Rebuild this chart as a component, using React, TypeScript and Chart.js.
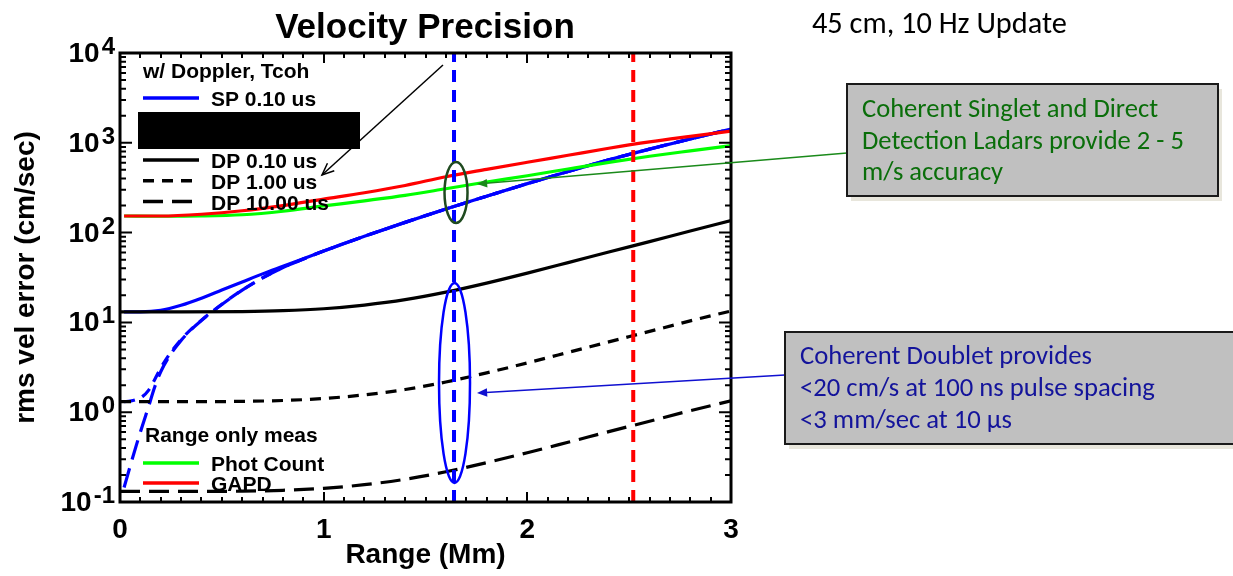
import React, { useEffect, useRef } from 'react';
import { Chart, registerables } from 'chart.js';

Chart.register(...registerables);

const W = 1233;
const H = 576;

// ---------- data ----------
const X_MIN = 0;
const X_MAX = 3;
const Y_MIN = 0.1;
const Y_MAX = 10000;

const X_TICK_LABELS = ['0', '1', '2', '3'];
const Y_DECADES = [-1, 0, 1, 2, 3, 4];

// Coherent singlet (SP) with Doppler
const SP010_X = [0.02, 0.1, 0.2, 0.3, 0.4, 0.5, 0.6, 0.7, 0.8, 0.9, 1.0, 1.2, 1.4, 1.6, 1.8, 2.0, 2.2, 2.4, 2.6, 2.8, 3.0];
const SP010_Y = [13.1, 13.1, 13.6, 15.5, 18.6, 22.9, 28.2, 34.7, 42.2, 51.3, 62.4, 91, 130, 183, 254, 351, 479, 646, 851, 1104, 1419];

const SP100_X = [0.02, 0.05, 0.08, 0.11, 0.14, 0.17, 0.2, 0.25, 0.3, 0.35, 0.4, 0.5, 0.6, 0.7, 0.8, 0.9, 1.0, 1.2, 1.4, 1.6, 1.8, 2.0, 2.2, 2.4, 2.6, 2.8, 3.0];
const SP100_Y = [1.31, 1.33, 1.38, 1.49, 1.75, 2.3, 3.1, 4.65, 6.45, 8.4, 10.6, 15.9, 22.9, 31.3, 40.7, 50.7, 62.4, 91, 130, 183, 254, 351, 479, 646, 851, 1104, 1419];

const SP1000_X = [0.02, 0.05, 0.08, 0.11, 0.14, 0.17, 0.2, 0.25, 0.3, 0.35, 0.4, 0.5, 0.6, 0.7, 0.8, 0.9, 1.0, 1.2, 1.4, 1.6, 1.8, 2.0, 2.2, 2.4, 2.6, 2.8, 3.0];
const SP1000_Y = [0.145, 0.251, 0.427, 0.708, 1.15, 1.9, 2.82, 4.47, 6.31, 8.32, 10.5, 15.8, 22.9, 31.3, 40.7, 50.7, 62.4, 91, 130, 183, 254, 351, 479, 646, 851, 1104, 1419];

// Coherent doublet (DP)
const DP_X = [0, 0.3, 0.6, 0.8, 1.0, 1.2, 1.4, 1.6, 1.8, 2.0, 2.2, 2.4, 2.6, 2.8, 3.0];
const DP010_Y = [13.1, 13.1, 13.2, 13.5, 14.2, 15.6, 17.9, 21.7, 27.4, 35.4, 46.3, 60.7, 79.4, 104, 136];
const DP100_Y = [1.31, 1.31, 1.32, 1.35, 1.42, 1.56, 1.79, 2.17, 2.74, 3.54, 4.63, 6.07, 7.94, 10.4, 13.4];
const DP1000_Y = [0.131, 0.131, 0.132, 0.135, 0.142, 0.156, 0.179, 0.217, 0.274, 0.354, 0.463, 0.607, 0.794, 1.04, 1.34];

// Range-only measurements
const RO_X = [0.02, 0.2, 0.4, 0.6, 0.8, 1.0, 1.2, 1.4, 1.6, 1.8, 2.0, 2.2, 2.4, 2.6, 2.8, 3.0];
const PHOT_Y = [153, 152, 153, 158, 173, 198, 226, 260, 308, 366, 430, 511, 605, 708, 813, 929];
const GAPD_Y = [153, 153, 160, 175, 200, 236, 278, 335, 419, 506, 607, 726, 869, 1023, 1178, 1350];

// Marker ranges (vertical dashed lines)
const BLUE_MARK_X = 1.64;
const RED_MARK_X = 2.52;

// ---------- text ----------
const TITLE = 'Velocity Precision';
const SUBTITLE = '45 cm, 10 Hz Update';
const X_TITLE = 'Range (Mm)';
const Y_TITLE = 'rms vel error (cm/sec)';
const LEGEND1_TITLE = 'w/ Doppler, Tcoh';
const LEGEND2_TITLE = 'Range only meas';
const GREEN_BOX_LINES = ['Coherent Singlet and Direct', 'Detection Ladars provide 2 - 5', 'm/s accuracy'];
const BLUE_BOX_LINES = ['Coherent Doublet provides', '<20 cm/s at 100 ns pulse spacing', '<3 mm/sec at 10 \u03bcs'];

const BLUE = '#0000ff';
const RED = '#ff0000';
const GREEN = '#00ff00';
const BLACK = '#000000';
const SHORT_DASH = [11, 8];
const LONG_DASH = [20, 9];
const MARK_DASH = [12, 8];

const LEGEND1 = [
  { label: 'SP 0.10 us', color: BLUE, dash: [] as number[] },
  { label: 'SP 1.00 us', color: BLUE, dash: SHORT_DASH },
  { label: 'SP 10.00 us', color: BLUE, dash: LONG_DASH },
  { label: 'DP 0.10 us', color: BLACK, dash: [] as number[] },
  { label: 'DP 1.00 us', color: BLACK, dash: SHORT_DASH },
  { label: 'DP 10.00 us', color: BLACK, dash: LONG_DASH },
];
const LEGEND2 = [
  { label: 'Phot Count', color: GREEN },
  { label: 'GAPD', color: RED },
];

const SANS_BOLD = "'Liberation Sans', Arial, Helvetica, sans-serif";
const BOX_FAMILY = "Carlito, Calibri, Lato, 'Open Sans', sans-serif";

function series(label: string, xs: number[], ys: number[], color: string, dash: number[], width = 3.2) {
  return {
    label,
    data: xs.map((x, i) => ({ x, y: ys[i] })),
    borderColor: color,
    backgroundColor: color,
    borderWidth: width,
    borderDash: dash,
    borderCapStyle: 'butt' as const,
    pointRadius: 0,
    fill: false,
    cubicInterpolationMode: 'monotone' as const,
  };
}

function vline(label: string, x: number, color: string) {
  return {
    label,
    data: [{ x, y: Y_MIN }, { x, y: Y_MAX }],
    borderColor: color,
    backgroundColor: color,
    borderWidth: 4,
    borderDash: MARK_DASH,
    borderCapStyle: 'butt' as const,
    pointRadius: 0,
    fill: false,
  };
}

function fitSize(ctx: CanvasRenderingContext2D, text: string, target: number, family: string, weight = '') {
  ctx.font = `${weight} 100px ${family}`;
  const w = ctx.measureText(text).width;
  return (100 * target) / w;
}

function drawArrow(ctx: CanvasRenderingContext2D, x1: number, y1: number, x2: number, y2: number,
  color: string, width: number, head: number, filled: boolean) {
  const ang = Math.atan2(y2 - y1, x2 - x1);
  ctx.save();
  ctx.strokeStyle = color;
  ctx.fillStyle = color;
  ctx.lineWidth = width;
  ctx.setLineDash([]);
  ctx.beginPath();
  ctx.moveTo(x1, y1);
  ctx.lineTo(filled ? x2 - Math.cos(ang) * head * 0.8 : x2, filled ? y2 - Math.sin(ang) * head * 0.8 : y2);
  ctx.stroke();
  const a1 = ang + Math.PI - 0.4;
  const a2 = ang + Math.PI + 0.4;
  ctx.beginPath();
  ctx.moveTo(x2 + Math.cos(a1) * head, y2 + Math.sin(a1) * head);
  ctx.lineTo(x2, y2);
  ctx.lineTo(x2 + Math.cos(a2) * head, y2 + Math.sin(a2) * head);
  if (filled) {
    ctx.closePath();
    ctx.fill();
  } else {
    ctx.stroke();
  }
  ctx.restore();
}

const decorPlugin = {
  id: 'decor',
  afterDraw(chart: any) {
    const ctx: CanvasRenderingContext2D = chart.ctx;
    const a = chart.chartArea;
    const xs = chart.scales.x;
    const ys = chart.scales.y;
    ctx.save();
    ctx.setLineDash([]);
    ctx.fillStyle = '#000';
    ctx.strokeStyle = '#000';

    // frame
    ctx.lineWidth = 3;
    ctx.strokeRect(a.left, a.top, a.right - a.left, a.bottom - a.top);

    // x ticks (inward, top & bottom)
    ctx.lineWidth = 2;
    for (let i = 0; i <= 30; i++) {
      const px = Math.round(xs.getPixelForValue(i / 10));
      const len = i % 10 === 0 ? 10 : 5;
      ctx.beginPath();
      ctx.moveTo(px, a.bottom);
      ctx.lineTo(px, a.bottom - len);
      ctx.moveTo(px, a.top);
      ctx.lineTo(px, a.top + len);
      ctx.stroke();
    }
    // y ticks (inward, left & right)
    for (const e of Y_DECADES) {
      for (let m = 1; m <= 9; m++) {
        const v = m * Math.pow(10, e);
        if (v > Y_MAX * 1.0001) break;
        const py = ys.getPixelForValue(v);
        const len = m === 1 ? 12 : 6;
        ctx.beginPath();
        ctx.moveTo(a.left, py);
        ctx.lineTo(a.left + len, py);
        ctx.moveTo(a.right, py);
        ctx.lineTo(a.right - len, py);
        ctx.stroke();
      }
    }

    // y tick labels 10^n
    const baseFont = `bold 28px ${SANS_BOLD}`;
    const expFont = `bold 24px ${SANS_BOLD}`;
    ctx.textAlign = 'left';
    ctx.textBaseline = 'alphabetic';
    for (const e of Y_DECADES) {
      const py = ys.getPixelForValue(Math.pow(10, e));
      const ex = e < 0 ? '-' + String(-e) : String(e);
      ctx.font = baseFont;
      const wb = ctx.measureText('10').width;
      ctx.font = expFont;
      const we = ctx.measureText(ex).width;
      const right = a.left - 5;
      ctx.font = baseFont;
      ctx.fillText('10', right - we - wb - 2, py + 9);
      ctx.font = expFont;
      ctx.fillText(ex, right - we, py + 1);
    }

    // x tick labels
    ctx.font = baseFont;
    ctx.textAlign = 'center';
    X_TICK_LABELS.forEach((t, i) => {
      ctx.fillText(t, xs.getPixelForValue(i), a.bottom + 36);
    });

    // axis titles
    ctx.font = `bold 28px ${SANS_BOLD}`;
    ctx.fillText(X_TITLE, (a.left + a.right) / 2, a.bottom + 61);
    ctx.save();
    ctx.translate(34, (a.top + a.bottom) / 2);
    ctx.rotate(-Math.PI / 2);
    ctx.textAlign = 'center';
    ctx.fillText(Y_TITLE, 0, 0);
    ctx.restore();

    // title
    ctx.font = `bold 35px ${SANS_BOLD}`;
    ctx.textAlign = 'center';
    ctx.fillText(TITLE, 425, 38);

    // legend 1
    const legFont = `bold 21px ${SANS_BOLD}`;
    ctx.font = legFont;
    ctx.textAlign = 'left';
    ctx.fillText(LEGEND1_TITLE, 143, 78);
    LEGEND1.forEach((it, i) => {
      const base = 106 + i * 20.7;
      ctx.save();
      ctx.strokeStyle = it.color;
      ctx.lineWidth = 3.5;
      ctx.setLineDash(it.dash);
      ctx.beginPath();
      ctx.moveTo(143, base - 8);
      ctx.lineTo(199, base - 8);
      ctx.stroke();
      ctx.restore();
      ctx.fillStyle = '#000';
      ctx.font = legFont;
      ctx.fillText(it.label, 211, base);
    });
    // redaction box
    ctx.fillStyle = '#000';
    ctx.fillRect(138, 112, 222, 37);

    // legend 2
    ctx.font = legFont;
    ctx.fillText(LEGEND2_TITLE, 145, 442);
    LEGEND2.forEach((it, i) => {
      const base = 471 + i * 20;
      ctx.save();
      ctx.strokeStyle = it.color;
      ctx.lineWidth = 3.5;
      ctx.beginPath();
      ctx.moveTo(143, base - 8);
      ctx.lineTo(199, base - 8);
      ctx.stroke();
      ctx.restore();
      ctx.fillStyle = '#000';
      ctx.fillText(it.label, 211, base);
    });

    // black arrow into legend
    drawArrow(ctx, 443, 65, 322, 175, '#000', 1.5, 13, false);

    // ellipses around the marked range
    const mx = xs.getPixelForValue(BLUE_MARK_X);
    const gTop = ys.getPixelForValue(611);
    const gBot = ys.getPixelForValue(128);
    ctx.save();
    ctx.strokeStyle = '#1f4a1f';
    ctx.lineWidth = 2.5;
    ctx.beginPath();
    ctx.ellipse(mx + 2, (gTop + gBot) / 2, 11.5, (gBot - gTop) / 2, 0, 0, Math.PI * 2);
    ctx.stroke();
    const bTop = ys.getPixelForValue(27.5);
    const bBot = ys.getPixelForValue(0.163);
    ctx.strokeStyle = BLUE;
    ctx.beginPath();
    ctx.ellipse(mx + 0.5, (bTop + bBot) / 2, 15.5, (bBot - bTop) / 2, 0, 0, Math.PI * 2);
    ctx.stroke();
    ctx.restore();

    // annotation arrows
    drawArrow(ctx, 847, 153, mx + 23, 184, '#1a8a1a', 1.6, 11, true);
    drawArrow(ctx, 785, 375, mx + 23, 393, '#1010d0', 1.6, 11, true);

    // text boxes
    const drawBox = (x: number, y: number, w: number, h: number) => {
      ctx.save();
      ctx.fillStyle = '#e8e6dc';
      ctx.fillRect(x + 4, y + 5, w, h);
      ctx.fillStyle = '#c0c0c0';
      ctx.fillRect(x, y, w, h);
      ctx.strokeStyle = '#1a1a1a';
      ctx.lineWidth = 2;
      ctx.strokeRect(x, y, w, h);
      ctx.restore();
    };
    drawBox(847, 84, 371, 112);
    drawBox(785, 332, 470, 112);

    const gSize = fitSize(ctx, GREEN_BOX_LINES[1], 322, BOX_FAMILY);
    ctx.font = `${gSize}px ${BOX_FAMILY}`;
    ctx.fillStyle = '#0a6e0a';
    ctx.textAlign = 'left';
    GREEN_BOX_LINES.forEach((t, i) => ctx.fillText(t, 862, 117 + i * 31.5));

    const bSize = fitSize(ctx, BLUE_BOX_LINES[1], 355, BOX_FAMILY);
    ctx.font = `${bSize}px ${BOX_FAMILY}`;
    ctx.fillStyle = '#14149b';
    BLUE_BOX_LINES.forEach((t, i) => ctx.fillText(t, 800, 364 + i * 32));

    const sSize = fitSize(ctx, SUBTITLE, 255, BOX_FAMILY);
    ctx.font = `${sSize}px ${BOX_FAMILY}`;
    ctx.fillStyle = '#000';
    ctx.fillText(SUBTITLE, 812, 33);

    ctx.restore();
  },
};

export default function App() {
  const ref = useRef<HTMLCanvasElement | null>(null);
  useEffect(() => {
    if (!ref.current) return;
    const chart = new Chart(ref.current, {
      type: 'line',
      data: {
        datasets: [
          vline('blue mark', BLUE_MARK_X, BLUE),
          vline('red mark', RED_MARK_X, RED),
          series('GAPD', RO_X, GAPD_Y, RED, []),
          series('Phot Count', RO_X, PHOT_Y, GREEN, []),
          series('DP 10.00 us', DP_X, DP1000_Y, BLACK, LONG_DASH),
          series('DP 1.00 us', DP_X, DP100_Y, BLACK, SHORT_DASH),
          series('DP 0.10 us', DP_X, DP010_Y, BLACK, []),
          series('SP 10.00 us', SP1000_X, SP1000_Y, BLUE, LONG_DASH),
          series('SP 1.00 us', SP100_X, SP100_Y, BLUE, SHORT_DASH),
          series('SP 0.10 us', SP010_X, SP010_Y, BLUE, []),
        ] as any,
      },
      options: {
        responsive: false,
        animation: false,
        devicePixelRatio: 1,
        events: [],
        layout: { padding: { left: 120, right: W - 731, top: 53, bottom: H - 502 } },
        plugins: {
          legend: { display: false },
          tooltip: { enabled: false },
          title: { display: false },
        },
        scales: {
          x: { type: 'linear', min: X_MIN, max: X_MAX, display: false },
          y: { type: 'logarithmic', min: Y_MIN, max: Y_MAX, display: false },
        },
      } as any,
      plugins: [decorPlugin],
    });
    return () => chart.destroy();
  }, []);
  return (
    <div style={{ position: 'absolute', left: 0, top: 0, width: W, height: H, background: '#fff' }}>
      <canvas ref={ref} width={W} height={H} style={{ display: 'block', width: W, height: H }} />
    </div>
  );
}
